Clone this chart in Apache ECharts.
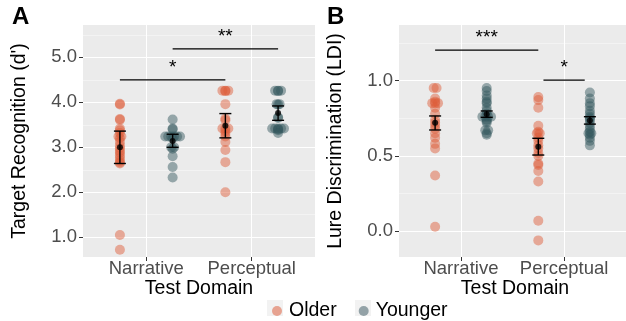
<!DOCTYPE html>
<html><head><meta charset="utf-8">
<script src="https://cdn.jsdelivr.net/npm/echarts@6/dist/echarts.min.js"></script>
<style>html,body{margin:0;padding:0;background:#fff}#c{width:626px;height:321px}</style>
</head><body><div id="c"></div>
<script>
const FONT = '"Liberation Sans", Arial, sans-serif';
const categories = ['Narrative', 'Perceptual'];
const groupNames = ['Older', 'Younger'];

// Panel A: Target Recognition (d')
const dOlderNarrative = [3.97, 3.95, 3.63, 3.61, 3.42, 3.38, 3.32, 3.24, 3.24, 3.20, 3.12, 3.04, 2.98, 2.92, 2.88, 2.82, 2.76, 2.70, 2.66, 2.64, 1.05, 0.72];
const dYoungerNarrative = [3.62, 3.42, 3.40, 3.24, 3.24, 3.24, 3.24, 3.24, 3.24, 3.20, 3.00, 3.00, 2.97, 2.80, 2.56, 2.33];
const dOlderPerceptual = [4.26, 4.26, 4.26, 4.25, 3.96, 3.64, 3.60, 3.42, 3.42, 3.42, 3.36, 3.30, 3.24, 3.12, 2.94, 2.67, 2.00];
const dYoungerPerceptual = [4.26, 4.26, 4.26, 4.25, 3.96, 3.96, 3.95, 3.67, 3.65, 3.42, 3.42, 3.42, 3.42, 3.42, 3.40, 3.38, 3.32];
const dMeanOlder = [3.00, 3.48], dLowOlder = [2.64, 3.21], dHighOlder = [3.36, 3.75];
const dMeanYounger = [3.14, 3.76], dLowYounger = [3.00, 3.60], dHighYounger = [3.29, 3.92];
const dSigFrom = [0.75, 1.25], dSigTo = [1.75, 2.25], dSigY = [4.50, 5.19], dSigLabel = ['*', '**'];
const dTicks = [1, 2, 3, 4, 5];
const dMinorTicks = [1.5, 2.5, 3.5, 4.5, 5.5];

// Panel B: Lure Discrimination (LDI)
const lOlderNarrative = [0.95, 0.95, 0.88, 0.86, 0.85, 0.85, 0.85, 0.82, 0.78, 0.74, 0.72, 0.70, 0.68, 0.65, 0.62, 0.58, 0.55, 0.37, 0.03];
const lYoungerNarrative = [0.95, 0.93, 0.90, 0.88, 0.86, 0.85, 0.82, 0.80, 0.78, 0.76, 0.76, 0.76, 0.76, 0.74, 0.73, 0.72, 0.67, 0.67, 0.65, 0.64];
const lOlderPerceptual = [0.89, 0.87, 0.82, 0.70, 0.66, 0.65, 0.65, 0.62, 0.60, 0.57, 0.55, 0.52, 0.50, 0.45, 0.44, 0.40, 0.33, 0.07, -0.06];
const lYoungerPerceptual = [0.92, 0.88, 0.85, 0.83, 0.80, 0.78, 0.76, 0.75, 0.74, 0.72, 0.70, 0.68, 0.66, 0.65, 0.65, 0.64, 0.62, 0.60, 0.57];
const lMeanOlder = [0.720, 0.561], lLowOlder = [0.672, 0.506], lHighOlder = [0.765, 0.617];
const lMeanYounger = [0.776, 0.735], lLowYounger = [0.756, 0.711], lHighYounger = [0.798, 0.760];
const lSigFrom = [0.75, 1.80], lSigTo = [1.75, 2.20], lSigY = [1.202, 1.003], lSigLabel = ['***', '*'];
const lTicks = [0, 0.5, 1.0];
const lMinorTicks = [0.25, 0.75, 1.25];

const COL_OLD = 'rgba(222,93,57,0.6)';
const COL_YOUNG = 'rgba(53,87,95,0.6)';
const DODGE = 0.25, STEP = 0.028;

function swarm(values, center) {
  const counts = {}, seen = {};
  values.forEach(v => { const k = v.toFixed(2); counts[k] = (counts[k] || 0) + 1; });
  return values.map(v => {
    const k = v.toFixed(2);
    const i = seen[k] = (seen[k] === undefined ? 0 : seen[k] + 1);
    return [center + (i - (counts[k] - 1) / 2) * STEP, v];
  });
}

function errRender(params, api) {
  const x = api.value(0), lo = api.value(1), hi = api.value(2);
  const p1 = api.coord([x, hi]), p2 = api.coord([x, lo]);
  const cap = 6, st = { stroke: '#000', lineWidth: 1.4 };
  return { type: 'group', children: [
    { type: 'line', shape: { x1: p1[0], y1: p1[1], x2: p2[0], y2: p2[1] }, style: st },
    { type: 'line', shape: { x1: p1[0] - cap, y1: p1[1], x2: p1[0] + cap, y2: p1[1] }, style: st },
    { type: 'line', shape: { x1: p2[0] - cap, y1: p2[1], x2: p2[0] + cap, y2: p2[1] }, style: st }
  ] };
}
function sigRenderFactory(labels) {
  return function (params, api) {
    const a = api.coord([api.value(0), api.value(2)]);
    const b = api.coord([api.value(1), api.value(2)]);
    return { type: 'group', children: [
      { type: 'line', shape: { x1: a[0], y1: a[1], x2: b[0], y2: b[1] }, style: { stroke: '#000', lineWidth: 1.2 } },
      { type: 'text', x: (a[0] + b[0]) / 2, y: a[1] - 3, style: { text: labels[params.dataIndex], fontSize: 19, fontFamily: FONT, fill: '#000', align: 'center', verticalAlign: 'bottom' } }
    ] };
  };
}

function panelSeries(pi, yi, oN, yN, oP, yP, mO, loO, hiO, mY, loY, hiY, sf, st, sy, sl) {
  const pos = (g, c) => c + 1 + (g === 0 ? -DODGE : DODGE);
  return [
    { name: 'Older', type: 'scatter', xAxisIndex: pi, yAxisIndex: yi, symbolSize: 10, itemStyle: { color: COL_OLD }, z: 2,
      data: swarm(oN, pos(0, 0)).concat(swarm(oP, pos(0, 1))) },
    { name: 'Younger', type: 'scatter', xAxisIndex: pi, yAxisIndex: yi, symbolSize: 10, itemStyle: { color: COL_YOUNG }, z: 2,
      data: swarm(yN, pos(1, 0)).concat(swarm(yP, pos(1, 1))) },
    { type: 'custom', xAxisIndex: pi, yAxisIndex: yi, renderItem: errRender, z: 5, encode: { x: 0, y: [1, 2] },
      data: [0, 1].map(c => [pos(0, c), loO[c], hiO[c]]).concat([0, 1].map(c => [pos(1, c), loY[c], hiY[c]])) },
    { type: 'scatter', xAxisIndex: pi, yAxisIndex: yi, symbolSize: 6, itemStyle: { color: '#000' }, z: 6,
      data: [0, 1].map(c => [pos(0, c), mO[c]]).concat([0, 1].map(c => [pos(1, c), mY[c]])) },
    { type: 'custom', xAxisIndex: pi, yAxisIndex: yi, renderItem: sigRenderFactory(sl), z: 6, encode: { x: [0, 1], y: 2 },
      data: sf.map((f, i) => [f, st[i], sy[i]]) }
  ];
}

function xAx(gi) {
  return { gridIndex: gi, type: 'value', min: 0.4, max: 2.6, position: 'bottom',
    axisLine: { show: false, onZero: false },
    axisTick: { show: true, customValues: [1, 2], length: 4, lineStyle: { color: '#333', width: 1 } },
    axisLabel: { customValues: [1, 2], formatter: v => categories[Math.round(v) - 1], color: '#4D4D4D', fontSize: 18.5, fontFamily: FONT, margin: 2 },
    splitLine: { show: true, lineStyle: { color: '#FFFFFF', width: 1.1 } } };
}
function yAx(gi, min, max, ticks, dec) {
  return { gridIndex: gi, type: 'value', min: min, max: max, position: 'left',
    axisLine: { show: false, onZero: false },
    axisTick: { show: true, customValues: ticks, length: 4, lineStyle: { color: '#333', width: 1 } },
    axisLabel: { customValues: ticks, formatter: v => v.toFixed(dec), color: '#4D4D4D', fontSize: 18.5, fontFamily: FONT, margin: 6 },
    splitLine: { show: true, lineStyle: { color: '#FFFFFF', width: 1.1 } } };
}
function yMinor(gi, min, max, ticks) {
  return { gridIndex: gi, type: 'value', min: min, max: max, position: 'left',
    axisLine: { show: false, onZero: false },
    axisTick: { show: false, customValues: ticks },
    axisLabel: { show: false, customValues: ticks },
    splitLine: { show: true, lineStyle: { color: '#F5F5F5', width: 0.8 } } };
}

const chart = echarts.init(document.getElementById('c'));
chart.setOption({
  animation: false,
  grid: [
    { left: 83, top: 25, width: 232, height: 232, show: true, backgroundColor: '#EBEBEB', borderWidth: 0 },
    { left: 399, top: 25, width: 233, height: 232, show: true, backgroundColor: '#EBEBEB', borderWidth: 0 }
  ],
  xAxis: [xAx(0), xAx(1)],
  yAxis: [yMinor(0, 0.56, 5.72, dMinorTicks), yAx(0, 0.56, 5.72, dTicks, 1), yMinor(1, -0.17, 1.368, lMinorTicks), yAx(1, -0.17, 1.368, lTicks, 1)],
  legend: {
    data: [{ name: 'Older', itemStyle: { color: '#E38F78' } }, { name: 'Younger', itemStyle: { color: '#7A8D93' } }],
    left: 267, top: 296, icon: 'circle', itemWidth: 14, itemHeight: 10, itemGap: 22,
    textStyle: { fontSize: 19.5, color: '#000', fontFamily: FONT }
  },
  graphic: [
    { type: 'rect', shape: { x: 267, y: 300, width: 16, height: 16 }, style: { fill: '#F2F2F2' }, z: -1 },
    { type: 'rect', shape: { x: 355, y: 300, width: 16, height: 16 }, style: { fill: '#F2F2F2' }, z: -1 },
    { type: 'text', x: 12, y: 5, style: { text: 'A', fontSize: 24, fontWeight: 'bold', fontFamily: FONT, fill: '#000' } },
    { type: 'text', x: 327, y: 5, style: { text: 'B', fontSize: 24, fontWeight: 'bold', fontFamily: FONT, fill: '#000' } },
    { type: 'text', x: 20, y: 141, rotation: Math.PI / 2, style: { text: "Target Recognition (d')", fontSize: 19.5, fontFamily: FONT, fill: '#000', align: 'center', verticalAlign: 'middle' } },
    { type: 'text', x: 336, y: 141, rotation: Math.PI / 2, style: { text: 'Lure Discrimination (LDI)', fontSize: 19.5, fontFamily: FONT, fill: '#000', align: 'center', verticalAlign: 'middle' } },
    { type: 'text', x: 199, y: 289, style: { text: 'Test Domain', fontSize: 19.5, fontFamily: FONT, fill: '#000', align: 'center', verticalAlign: 'middle' } },
    { type: 'text', x: 515, y: 289, style: { text: 'Test Domain', fontSize: 19.5, fontFamily: FONT, fill: '#000', align: 'center', verticalAlign: 'middle' } }
  ],
  series: panelSeries(0, 1, dOlderNarrative, dYoungerNarrative, dOlderPerceptual, dYoungerPerceptual,
      dMeanOlder, dLowOlder, dHighOlder, dMeanYounger, dLowYounger, dHighYounger, dSigFrom, dSigTo, dSigY, dSigLabel)
    .concat(panelSeries(1, 3, lOlderNarrative, lYoungerNarrative, lOlderPerceptual, lYoungerPerceptual,
      lMeanOlder, lLowOlder, lHighOlder, lMeanYounger, lLowYounger, lHighYounger, lSigFrom, lSigTo, lSigY, lSigLabel))
});
</script></body></html>
